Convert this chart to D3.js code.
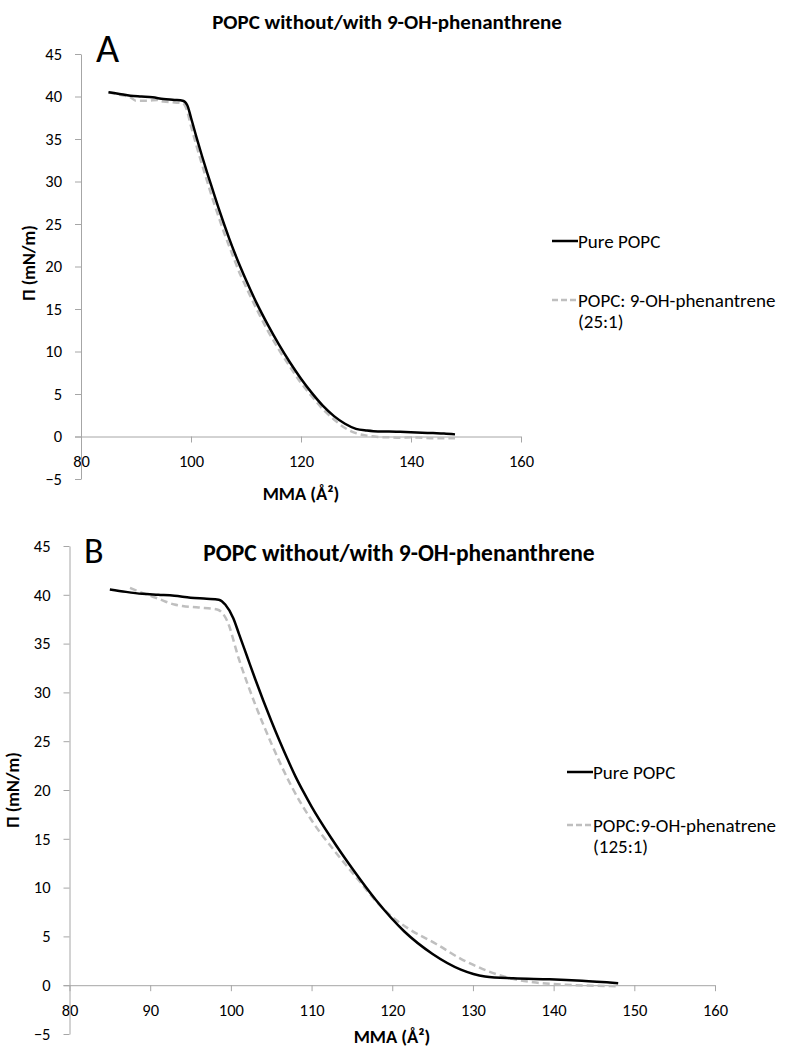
<!DOCTYPE html>
<html lang="en">
<head>
  <meta charset="UTF-8">
  <title>POPC isotherms</title>
  <style type="text/css">
    body {
      margin: 0;
      background: #fff;
    }
    svg text {
      font-family: Carlito, Lato, "Open Sans", sans-serif;
      fill: #000;
    }
    .axis path, .axis line {
      stroke: #a6a6a6;
      stroke-width: 1;
    }
    .axis text {
      font-size: 16.5px;
    }
  </style>
</head>
<body>
  <svg id="chart" width="791" height="1049"></svg>

<script src="https://cdn.jsdelivr.net/npm/d3@7/dist/d3.min.js"></script>
<script>
  // tick values
  const yTicks = [-5, 0, 5, 10, 15, 20, 25, 30, 35, 40, 45]
  const xTicksA = [80, 100, 120, 140, 160]
  const xTicksB = [80, 90, 100, 110, 120, 130, 140, 150, 160]

  // panel A: [MMA, surface pressure]
  const pureA = [
    [85, 40.5], [87, 40.3], [89, 40.1], [91, 40.0], [93, 39.9], [95, 39.7], [97, 39.6],
    [98.5, 39.5], [99.3, 39.0], [100, 37.5], [101, 35.2], [102, 33.0], [103, 30.9],
    [104, 28.9], [105, 26.9], [106, 25.0], [107, 23.2], [108, 21.5], [109, 19.9],
    [110, 18.4], [112, 15.6], [114, 13.1], [116, 10.8], [118, 8.7], [120, 6.8],
    [122, 5.1], [124, 3.6], [126, 2.4], [128, 1.5], [130, 0.9], [132, 0.7], [134, 0.6],
    [136, 0.6], [138, 0.55], [140, 0.5], [142, 0.45], [144, 0.4], [146, 0.35], [148, 0.25]
  ]
  const mixA = [
    [85, 40.5], [87, 40.2], [89, 39.9], [90, 39.5], [92, 39.5], [94, 39.6], [95, 39.4],
    [97, 39.3], [98.5, 39.2], [99.2, 38.5], [100, 36.5], [101, 34.2], [102, 32.0],
    [103, 29.9], [104, 27.8], [105, 25.9], [106, 24.0], [107, 22.3], [108, 20.6],
    [109, 19.0], [110, 17.6], [112, 14.9], [114, 12.4], [116, 10.2], [118, 8.2],
    [120, 6.3], [122, 4.7], [124, 3.2], [126, 2.0], [128, 1.0], [130, 0.4], [132, 0.1],
    [134, -0.05], [136, -0.1], [138, -0.15], [140, -0.1], [142, -0.15], [144, -0.2],
    [146, -0.2], [148, -0.2]
  ]

  // panel B
  const pureB = [
    [85, 40.55], [87, 40.3], [89, 40.1], [91, 40.0], [93, 39.9], [95, 39.7], [97, 39.6],
    [98.5, 39.5], [99.3, 39.0], [100.3, 37.6], [101, 36.0], [102, 33.7], [103, 31.4],
    [104, 29.2], [105, 27.1], [106, 25.1], [107, 23.2], [108, 21.4], [109, 19.8],
    [110, 18.3], [112.5, 15.0], [115, 12.0], [118, 8.7], [121.5, 5.5], [125, 3.2],
    [128.5, 1.6], [131.5, 0.9], [135, 0.7], [139.5, 0.6], [143.5, 0.45], [148, 0.2]
  ]
  const mixB = [
    [87.5, 40.7], [89, 40.2], [91, 39.6], [93, 39.0], [94, 38.85], [96, 38.7],
    [98.3, 38.5], [99.5, 37.4], [101, 33.4], [103, 28.8], [105, 24.8], [107.5, 20.4],
    [110, 16.9], [113, 13.6], [116, 10.6], [118, 8.6], [120, 7.0], [122, 5.8],
    [125.5, 4.2], [128.5, 2.7], [130, 2.1], [132, 1.4], [134.2, 0.8], [137.5, 0.3],
    [141.5, 0.05], [145, -0.05], [148, -0.1]
  ]

  const title = 'POPC without/with 9-OH-phenanthrene'
  const legendA = ['Pure POPC', 'POPC: 9-OH-phenantrene', '(25:1)']
  const legendB = ['Pure POPC', 'POPC:9-OH-phenatrene', '(125:1)']

  const svg = d3.select('#chart')

  function drawPanel (p) {
    const x = d3.scaleLinear().domain([80, 160]).range(p.xr)
    const y = d3.scaleLinear().domain([-5, 45]).range(p.yr)
    const g = svg.append('g')

    g.append('g').attr('class', 'axis')
      .attr('transform', 'translate(0,' + y(0) + ')')
      .call(d3.axisBottom(x).tickValues(p.xTicks).tickSize(6).tickSizeOuter(0).tickPadding(13))
      .call(a => a.select('.domain').attr('d', 'M' + (x(80) - 6) + ',0.5H' + x(160)))
      .call(a => a.selectAll('text').attr('fill', '#000'))

    g.append('g').attr('class', 'axis')
      .attr('transform', 'translate(' + x(80) + ',0)')
      .call(d3.axisLeft(y).tickValues(yTicks).tickSize(6).tickSizeOuter(0).tickPadding(13))
      .call(a => a.selectAll('text').attr('fill', '#000'))

    const line = d3.line().x(d => x(d[0])).y(d => y(d[1])).curve(d3.curveMonotoneX)

    g.append('path').datum(p.mix)
      .attr('d', line)
      .attr('fill', 'none')
      .attr('stroke', '#bfbfbf')
      .attr('stroke-width', 2.5)
      .attr('stroke-dasharray', '7,4')

    g.append('path').datum(p.pure)
      .attr('d', line)
      .attr('fill', 'none')
      .attr('stroke', '#000')
      .attr('stroke-width', 2.5)

    g.append('text').text(title)
      .attr('x', p.title[0]).attr('y', p.title[1])
      .attr('text-anchor', 'middle')
      .style('font-weight', 'bold').style('font-size', p.titleSize + 'px')

    g.append('text').text(p.letter)
      .attr('x', p.letterPos[0]).attr('y', p.letterPos[1])
      .style('font-size', p.letterSize + 'px')

    g.append('text').text('MMA (Å²)')
      .attr('x', p.xlab[0]).attr('y', p.xlab[1])
      .attr('text-anchor', 'middle')
      .style('font-weight', 'bold').style('font-size', '18.5px')

    g.append('text').text('Π (mN/m)')
      .attr('transform', 'translate(' + p.ylab[0] + ',' + p.ylab[1] + ') rotate(-90)')
      .attr('text-anchor', 'middle')
      .attr('dy', '0.35em')
      .style('font-weight', 'bold').style('font-size', '18px')

    // legend
    const lx = p.legX
    g.append('line')
      .attr('x1', lx).attr('x2', lx + 26).attr('y1', p.legY[0]).attr('y2', p.legY[0])
      .attr('stroke', '#000').attr('stroke-width', 2.5)
    g.append('line')
      .attr('x1', lx).attr('x2', lx + 26).attr('y1', p.legY[1]).attr('y2', p.legY[1])
      .attr('stroke', '#bfbfbf').attr('stroke-width', 2.5).attr('stroke-dasharray', '6,3')
    g.append('text').text(p.legend[0])
      .attr('x', lx + 26).attr('y', p.legY[0] + 6.5).style('font-size', '19px')
    g.append('text').text(p.legend[1])
      .attr('x', lx + 26).attr('y', p.legY[1] + 6.5).style('font-size', '19px')
    g.append('text').text(p.legend[2])
      .attr('x', lx + 26).attr('y', p.legY[1] + 28).style('font-size', '19px')
  }

  drawPanel({
    xr: [81, 521], yr: [479, 54], xTicks: xTicksA,
    pure: pureA, mix: mixA, legend: legendA,
    title: [387, 29], titleSize: 21,
    letter: 'A', letterPos: [96, 62], letterSize: 40,
    xlab: [301, 500], ylab: [29, 263],
    legX: 552, legY: [241, 300]
  })

  drawPanel({
    xr: [69.5, 715], yr: [1034, 546], xTicks: xTicksB,
    pure: pureB, mix: mixB, legend: legendB,
    title: [399, 561], titleSize: 23.5,
    letter: 'B', letterPos: [84, 563], letterSize: 36,
    xlab: [392, 1043], ylab: [13, 790],
    legX: 567, legY: [772, 825]
  })
</script>
</body>
</html>
